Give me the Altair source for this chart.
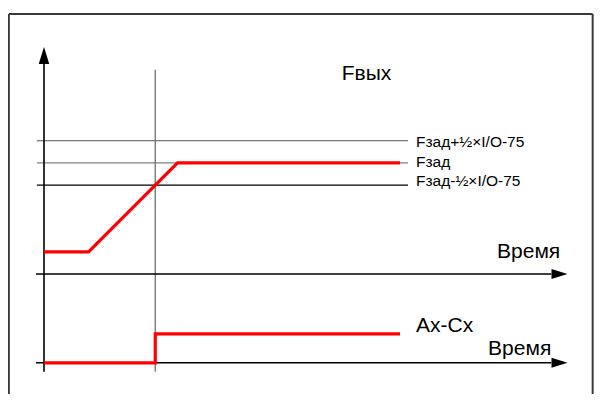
import altair as alt
import pandas as pd

# ---- data (diagram units: t = time, v = level) ----
PLOT_W = 586
PLOT_H = 386
X_DOMAIN = [-36 / 44.5, (PLOT_W - 36) / 44.5]
Y_DOMAIN = [(274 - 8 - PLOT_H) / 22.2, 11.98]

# Output frequency trace (upper panel)
fout_t = [0, 1, 3, 8]
fout_v = [1, 1, 5, 5]

# Relay output trace (lower panel)
relay_t = [0, 2.5, 2.5, 8]
relay_v = [-4, -4, -2.7, -2.7]

# Reference levels
ref_levels = [6, 5, 4]
ref_labels = ["Fзад+½×I/O-75", "Fзад", "Fзад-½×I/O-75"]
ref_colors = ["#555555", "#808080", "#000000"]
ref_dy = [1, -1, -4]
ref_start, ref_end, ref_label_t = -0.16, 8.18, 8.36

# Axes
time_axes_v = [0, -4]
axis_t_start, axis_t_end, arrow_t = -0.18, 11.4, 11.584
yaxis_bottom, yaxis_top, yarrow_v = -4.4, 9.5, 9.84
marker_t, marker_top = 2.5, 9.2

# Frame
frame_left, frame_right, frame_top = -0.79, X_DOMAIN[1] - 0.03, 11.71

# Texts
texts = ["Fвых", "Время", "Время", "Ax-Cx"]
texts_t = [6.69, 10.18, 9.98, 8.36]
texts_v = [8.74, 0.72, -3.65, -2.61]

FONT = "Liberation Sans"

xs = alt.Scale(domain=X_DOMAIN, nice=False, zero=False)
ys = alt.Scale(domain=Y_DOMAIN, nice=False, zero=False)


def X(f):
    return alt.X(f, type="quantitative", scale=xs, axis=None)


def Y(f):
    return alt.Y(f, type="quantitative", scale=ys, axis=None)


# frame segments
frame_df = pd.DataFrame({
    "x1": [frame_left, frame_left, frame_right],
    "x2": [frame_right, frame_left, frame_right],
    "y1": [frame_top, frame_top, frame_top],
    "y2": [frame_top, Y_DOMAIN[0], Y_DOMAIN[0]],
})
frame = alt.Chart(frame_df).mark_rule(color="#3a3a3a", strokeWidth=2).encode(
    x=X("x1"), x2="x2", y=Y("y1"), y2="y2")

# axes lines
axes_df = pd.DataFrame({
    "x1": [axis_t_start, axis_t_start, 0],
    "x2": [axis_t_end, axis_t_end, 0],
    "y1": [time_axes_v[0], time_axes_v[1], yaxis_bottom],
    "y2": [time_axes_v[0], time_axes_v[1], yaxis_top],
})
axes = alt.Chart(axes_df).mark_rule(color="#000000", strokeWidth=1.6).encode(
    x=X("x1"), x2="x2", y=Y("y1"), y2="y2")

marker = alt.Chart(pd.DataFrame({"x1": [marker_t], "y1": [yaxis_bottom], "y2": [marker_top]})).mark_rule(
    color="#707070", strokeWidth=1.3).encode(x=X("x1"), y=Y("y1"), y2="y2")

ARROW = "M0,-1L0.62,1L-0.62,1Z"
up_arrow = alt.Chart(pd.DataFrame({"x": [0], "y": [yarrow_v]})).mark_point(
    shape=ARROW, filled=True, size=289, color="#000000", opacity=1, strokeWidth=0).encode(x=X("x"), y=Y("y"))
right_arrows = alt.Chart(pd.DataFrame({"x": [arrow_t, arrow_t], "y": time_axes_v})).mark_point(
    shape=ARROW, filled=True, size=256, angle=90, color="#000000", opacity=1, strokeWidth=0).encode(
    x=X("x"), y=Y("y"))

# reference lines
ref_df = pd.DataFrame({"v": ref_levels, "label": ref_labels, "color": ref_colors})
ref_df["x1"] = ref_start
ref_df["x2"] = ref_end
ref_lines = alt.Chart(ref_df).mark_rule(strokeWidth=1.2).encode(
    x=X("x1"), x2="x2", y=Y("v"), color=alt.Color("color:N", scale=None))

ref_texts = []
for lab, lv, d in zip(ref_labels, ref_levels, ref_dy):
    ref_texts.append(
        alt.Chart(pd.DataFrame({"lt": [ref_label_t], "v": [lv], "label": [lab]})).mark_text(
            align="left", baseline="middle", font=FONT, fontSize=15.5, color="#000000", dy=d
        ).encode(x=X("lt"), y=Y("v"), text="label:N")
    )

# traces
trace_df = pd.DataFrame({
    "t": fout_t + relay_t,
    "v": fout_v + relay_v,
    "series": ["Fвых"] * len(fout_t) + ["Ax-Cx"] * len(relay_t),
    "ord": list(range(len(fout_t))) + list(range(len(relay_t))),
})
traces = alt.Chart(trace_df).mark_line(color="#ff0000", strokeWidth=3.2).encode(
    x=X("t"), y=Y("v"), detail="series:N", order="ord:Q")

labels = alt.Chart(pd.DataFrame({"t": texts_t, "v": texts_v, "txt": texts})).mark_text(
    align="left", baseline="alphabetic", font=FONT, fontSize=21, color="#000000").encode(
    x=X("t"), y=Y("v"), text="txt:N")

chart = alt.layer(
    frame, ref_lines, marker, axes, up_arrow, right_arrows, traces, labels, *ref_texts
).properties(
    width=PLOT_W, height=PLOT_H, padding=0, autosize=alt.AutoSizeParams(type="none")
).configure_view(stroke=None)

chart.save("out.html", embed_options={"renderer": "svg", "actions": False})
